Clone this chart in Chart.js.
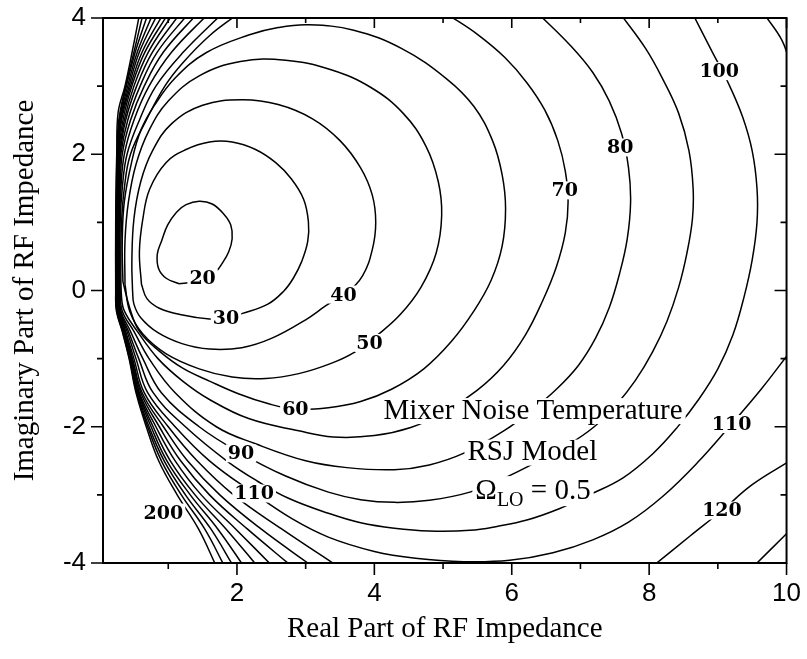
<!DOCTYPE html>
<html>
<head>
<meta charset="utf-8">
<script src="https://cdn.jsdelivr.net/npm/chart.js@4.4.1/dist/chart.umd.min.js"></script>
<style>
  html, body { margin: 0; padding: 0; background: #fff; }
  #wrap { width: 807px; height: 659px; }
</style>
</head>
<body>
<div id="wrap"><canvas id="myChart"></canvas></div>
<script>
// contour traces, [real, imaginary]
const c20 = [[1.16,0.10],[0.97,0.18],[0.86,0.32],[0.84,0.53],[0.90,0.72],[0.99,0.96],[1.12,1.15],[1.26,1.26],[1.45,1.31],[1.64,1.27],[1.81,1.12],[1.91,0.96],[1.93,0.76],[1.88,0.57],[1.78,0.39],[1.70,0.28],[1.55,0.16],[1.35,0.12],[1.16,0.10]];
const c30 = [[0.61,0.09],[0.58,0.57],[0.63,1.05],[0.73,1.49],[0.97,1.88],[1.26,2.07],[1.60,2.18],[1.93,2.18],[2.27,2.07],[2.56,1.88],[2.79,1.64],[2.97,1.34],[3.04,1.01],[3.03,0.72],[2.94,0.42],[2.82,0.18],[2.68,-0.01],[2.45,-0.2],[2.07,-0.34],[1.84,-0.41],[1.60,-0.42],[1.21,-0.36],[0.87,-0.26],[0.69,-0.12],[0.61,0.09]];
const c40 = [[0.48,0.0],[0.47,0.42],[0.5,1.05],[0.6,1.6],[0.77,2.05],[1.05,2.45],[1.5,2.72],[2.07,2.80],[2.6,2.73],[3.1,2.52],[3.5,2.2],[3.8,1.8],[3.97,1.4],[4.02,1.0],[3.97,0.6],[3.83,0.22],[3.6,-0.03],[3.3,-0.22],[3.0,-0.43],[2.51,-0.7],[2.07,-0.84],[1.6,-0.86],[1.2,-0.78],[0.85,-0.62],[0.6,-0.4],[0.5,-0.2],[0.48,0.0]];
const c50 = [[0.37,0.09],[0.37,0.72],[0.42,1.3],[0.53,1.85],[0.72,2.35],[1.0,2.78],[1.45,3.15],[2.05,3.36],[2.71,3.38],[3.37,3.24],[3.95,2.98],[4.42,2.6],[4.75,2.12],[4.93,1.6],[4.98,1.1],[4.9,0.55],[4.68,0.05],[4.38,-0.35],[4.05,-0.65],[3.72,-0.9],[3.37,-1.07],[2.9,-1.22],[2.42,-1.29],[1.93,-1.27],[1.45,-1.15],[0.97,-0.93],[0.63,-0.64],[0.44,-0.31],[0.37,0.09]];
const c60 = [[0.34,0.13],[0.33,0.7],[0.36,1.3],[0.47,1.9],[0.6,2.35],[0.8,2.72],[1.1,3.12],[1.55,3.49],[2.17,3.75],[2.6,3.86],[3.04,3.90],[3.7,3.82],[4.4,3.55],[5.06,3.10],[5.45,2.7],[5.72,2.2],[5.86,1.7],[5.91,1.2],[5.86,0.65],[5.7,0.15],[5.45,-0.3],[5.12,-0.75],[4.72,-1.15],[4.25,-1.45],[3.8,-1.63],[3.33,-1.72],[2.85,-1.74],[2.45,-1.66],[2.03,-1.52],[1.60,-1.33],[1.21,-1.14],[0.87,-0.89],[0.58,-0.6],[0.44,-0.26],[0.34,0.13]];
const c70 = [[2.0,4.05],[1.6,3.74],[1.21,3.34],[0.95,3.0],[0.68,2.5],[0.45,2.0],[0.36,1.5],[0.32,1.0],[0.31,0.4],[0.32,-0.1],[0.36,-0.3],[0.55,-0.6],[0.85,-1.0],[1.21,-1.33],[1.6,-1.6],[2.17,-1.88],[2.9,-2.06],[3.4,-2.15],[4.0,-2.13],[4.53,-2.01],[5.0,-1.8],[5.49,-1.47],[5.88,-1.1],[6.2,-0.65],[6.45,-0.15],[6.65,0.35],[6.78,0.85],[6.82,1.3],[6.78,1.75],[6.67,2.2],[6.48,2.65],[6.22,3.05],[5.9,3.42],[5.5,3.76],[5.07,4.05]];
const c80 = [[1.77,4.05],[1.22,3.5],[0.82,3.0],[0.58,2.5],[0.4,2.0],[0.33,1.5],[0.3,1.0],[0.3,0.0],[0.33,-0.3],[0.5,-0.6],[0.72,-1.0],[1.1,-1.5],[1.7,-2.0],[2.27,-2.25],[3.0,-2.5],[3.6,-2.6],[4.29,-2.63],[4.8,-2.56],[5.32,-2.38],[5.9,-2.05],[6.3,-1.75],[6.65,-1.45],[6.97,-1.1],[7.22,-0.7],[7.42,-0.25],[7.57,0.25],[7.68,0.75],[7.73,1.3],[7.7,1.8],[7.6,2.3],[7.42,2.78],[7.18,3.2],[6.85,3.6],[6.4,4.05]];
const c90 = [[1.57,4.05],[1.05,3.5],[0.72,3.0],[0.5,2.5],[0.36,2.0],[0.31,1.5],[0.29,1.0],[0.29,0.0],[0.31,-0.3],[0.45,-0.6],[0.63,-1.0],[0.9,-1.5],[1.45,-2.0],[2.06,-2.39],[2.7,-2.72],[3.33,-2.96],[3.8,-3.07],[4.29,-3.11],[4.8,-3.08],[5.39,-2.96],[5.9,-2.75],[6.36,-2.52],[6.8,-2.28],[7.2,-2.0],[7.52,-1.68],[7.8,-1.32],[8.05,-0.9],[8.26,-0.45],[8.43,0.05],[8.55,0.55],[8.63,1.05],[8.64,1.5],[8.58,2.05],[8.43,2.6],[8.2,3.1],[7.95,3.55],[7.59,4.05]];
const c100 = [[1.41,4.05],[0.93,3.5],[0.65,3.0],[0.45,2.5],[0.33,2.0],[0.3,1.5],[0.285,1.0],[0.285,0.0],[0.3,-0.3],[0.42,-0.6],[0.57,-1.0],[0.78,-1.5],[1.25,-2.0],[1.85,-2.5],[2.3,-2.8],[2.75,-3.05],[3.33,-3.27],[3.8,-3.41],[4.29,-3.49],[4.8,-3.53],[5.39,-3.52],[5.8,-3.46],[6.22,-3.37],[6.7,-3.2],[7.13,-3.0],[7.62,-2.75],[8.05,-2.4],[8.4,-2.02],[8.72,-1.6],[9.0,-1.15],[9.22,-0.65],[9.38,-0.1],[9.5,0.45],[9.57,1.0],[9.57,1.5],[9.5,2.05],[9.36,2.55],[9.15,3.05],[8.92,3.5],[8.64,4.05]];
const c110 = [[1.28,4.05],[0.84,3.5],[0.59,3.0],[0.41,2.5],[0.31,2.0],[0.29,1.5],[0.28,1.0],[0.28,0.0],[0.29,-0.3],[0.4,-0.6],[0.53,-1.0],[0.7,-1.5],[1.1,-2.0],[1.6,-2.5],[2.25,-2.98],[2.8,-3.35],[3.33,-3.62],[4.0,-3.83],[4.6,-3.93],[5.3,-3.98],[5.97,-3.96],[6.6,-3.85],[7.18,-3.66],[7.7,-3.4],[8.2,-3.02],[8.7,-2.53],[9.2,-1.96],[9.63,-1.45],[10.05,-0.9]];
const c110b = [[9.68,4.05],[9.93,3.68],[10.05,3.35]];
const c120 = [[1.16,4.05],[0.77,3.5],[0.54,3.0],[0.38,2.5],[0.3,2.0],[0.28,1.5],[0.275,1.0],[0.275,0.0],[0.285,-0.3],[0.38,-0.6],[0.5,-1.0],[0.65,-1.5],[1.0,-2.0],[1.42,-2.5],[1.95,-3.0],[2.65,-3.5],[3.47,-4.05]];
const c120b = [[8.05,-4.05],[8.6,-3.6],[9.06,-3.23],[9.5,-2.85],[10.05,-2.5]];
const c130 = [[1.06,4.05],[0.71,3.5],[0.5,3.0],[0.36,2.5],[0.29,2.0],[0.275,1.5],[0.27,1.0],[0.27,0.0],[0.28,-0.3],[0.37,-0.6],[0.48,-1.0],[0.62,-1.5],[0.93,-2.0],[1.28,-2.5],[1.75,-3.0],[2.35,-3.5],[3.1,-4.05]];
const c130b = [[9.52,-4.05],[10.05,-3.52]];
const c140 = [[0.99,4.05],[0.66,3.5],[0.47,3.0],[0.34,2.5],[0.28,2.0],[0.27,1.5],[0.265,1.0],[0.265,0.0],[0.275,-0.3],[0.36,-0.6],[0.47,-1.0],[0.6,-1.5],[0.87,-2.0],[1.18,-2.5],[1.6,-3.0],[2.15,-3.5],[2.8,-4.05]];
const c150 = [[0.92,4.05],[0.62,3.5],[0.45,3.0],[0.32,2.5],[0.275,2.0],[0.265,1.5],[0.26,1.0],[0.26,0.0],[0.27,-0.3],[0.355,-0.6],[0.46,-1.0],[0.58,-1.5],[0.82,-2.0],[1.1,-2.5],[1.48,-3.0],[1.98,-3.5],[2.52,-4.05]];
const c160 = [[0.84,4.05],[0.58,3.5],[0.43,3.0],[0.31,2.5],[0.27,2.0],[0.26,1.5],[0.255,1.0],[0.255,0.0],[0.265,-0.3],[0.35,-0.6],[0.45,-1.0],[0.57,-1.5],[0.78,-2.0],[1.03,-2.5],[1.39,-3.0],[1.84,-3.5],[2.3,-4.05]];
const c170 = [[0.77,4.05],[0.55,3.5],[0.41,3.0],[0.3,2.5],[0.265,2.0],[0.255,1.5],[0.25,1.0],[0.25,0.0],[0.26,-0.3],[0.345,-0.6],[0.445,-1.0],[0.56,-1.5],[0.75,-2.0],[0.98,-2.5],[1.32,-3.0],[1.72,-3.5],[2.1,-4.05]];
const c180 = [[0.7,4.05],[0.52,3.5],[0.39,3.0],[0.29,2.5],[0.26,2.0],[0.25,1.5],[0.245,1.0],[0.245,0.0],[0.255,-0.3],[0.34,-0.6],[0.44,-1.0],[0.55,-1.5],[0.72,-2.0],[0.94,-2.5],[1.25,-3.0],[1.62,-3.5],[1.95,-4.05]];
const c190 = [[0.63,4.05],[0.5,3.5],[0.38,3.0],[0.28,2.5],[0.255,2.0],[0.245,1.5],[0.24,1.0],[0.24,0.0],[0.25,-0.3],[0.335,-0.6],[0.435,-1.0],[0.54,-1.5],[0.7,-2.0],[0.9,-2.5],[1.19,-3.0],[1.53,-3.5],[1.82,-4.05]];
const c200 = [[0.58,4.05],[0.48,3.53],[0.37,3.0],[0.27,2.61],[0.25,2.0],[0.24,1.5],[0.235,1.0],[0.235,0.0],[0.245,-0.3],[0.33,-0.6],[0.43,-1.0],[0.53,-1.5],[0.68,-2.0],[0.86,-2.5],[1.13,-3.0],[1.44,-3.5],[1.7,-4.05]];

const allContours = [c20, c30, c40, c50, c60, c70, c80, c90, c100, c110, c110b,
  c120, c120b, c130, c130b, c140, c150, c160, c170, c180, c190, c200];

// inline contour labels
const levelText = ['20','30','40','50','60','70','80','90','100','110','110','120','200'];
const levelX    = [1.50, 1.84, 3.55, 3.93, 2.85, 6.77, 7.58, 2.06, 9.02, 2.25, 9.20, 9.06, 0.93];
const levelY    = [0.18, -0.41, -0.06, -0.77, -1.74, 1.47, 2.10, -2.39, 3.22, -2.98, -1.96, -3.23, -3.26];

// annotation block
const noteLines = ['Mixer Noise Temperature', 'RSJ Model'];
const noteX = [6.31, 6.30];
const noteY = [-1.77, -2.38];
const omegaX = 5.47, omegaY = -2.93;

const xTicks = [1,2,3,4,5,6,7,8,9,10];
const yTicks = [-4,-3,-2,-1,0,1,2,3,4];

const datasets = allContours.map(pts => ({
  data: pts.map(p => ({x: p[0], y: p[1]})),
  showLine: true,
  borderColor: '#000',
  borderWidth: 1.5,
  pointRadius: 0,
  tension: 0.4,
  fill: false
}));

function whiteBox(ctx, x, y, w, h) {
  ctx.fillStyle = '#fff';
  ctx.fillRect(x, y, w, h);
}

const labelPlugin = {
  id: 'labels',
  afterDatasetsDraw(chart) {
    const ctx = chart.ctx;
    const sx = chart.scales.x, sy = chart.scales.y;
    ctx.save();
    ctx.textAlign = 'center';
    ctx.textBaseline = 'middle';
    ctx.font = 'bold 19px "DejaVu Serif"';
    for (let i = 0; i < levelText.length; i++) {
      const px = sx.getPixelForValue(levelX[i]);
      const py = sy.getPixelForValue(levelY[i]);
      const w = ctx.measureText(levelText[i]).width;
      whiteBox(ctx, px - w / 2 - 2, py - 9, w + 4, 18);
      ctx.fillStyle = '#000';
      ctx.fillText(levelText[i], px, py + 1);
    }
    ctx.font = '29px "Liberation Serif"';
    for (let i = 0; i < noteLines.length; i++) {
      const px = sx.getPixelForValue(noteX[i]);
      const py = sy.getPixelForValue(noteY[i]);
      const w = ctx.measureText(noteLines[i]).width;
      whiteBox(ctx, px - w / 2 - 3, py - 13, w + 6, 26);
      ctx.fillStyle = '#000';
      ctx.fillText(noteLines[i], px, py);
    }
    // Omega_LO = 0.5
    const px = sx.getPixelForValue(omegaX);
    const py = sy.getPixelForValue(omegaY);
    ctx.textAlign = 'left';
    ctx.textBaseline = 'alphabetic';
    ctx.font = '29px "Liberation Serif"';
    const wO = ctx.measureText('\u03A9').width;
    ctx.font = '20px "Liberation Serif"';
    const wL = ctx.measureText('LO').width;
    ctx.font = '29px "Liberation Serif"';
    const wE = ctx.measureText(' = 0.5').width;
    whiteBox(ctx, px - 3, py - 14, wO + wL + wE + 6, 30);
    ctx.fillStyle = '#000';
    ctx.fillText('\u03A9', px, py + 9);
    ctx.font = '20px "Liberation Serif"';
    ctx.fillText('LO', px + wO, py + 16);
    ctx.font = '29px "Liberation Serif"';
    ctx.fillText(' = 0.5', px + wO + wL, py + 9);
    ctx.restore();
  },
  afterDraw(chart) {
    const ctx = chart.ctx;
    const a = chart.chartArea;
    const sx = chart.scales.x, sy = chart.scales.y;
    ctx.save();
    ctx.strokeStyle = '#000';
    ctx.lineWidth = 2;
    ctx.strokeRect(a.left, a.top, a.right - a.left, a.bottom - a.top);
    ctx.lineWidth = 1.6;
    ctx.beginPath();
    xTicks.forEach(v => {
      const p = sx.getPixelForValue(v);
      const big = v % 2 === 0;
      ctx.moveTo(p, a.bottom); ctx.lineTo(p, a.bottom + (big ? 12 : 6));
      ctx.moveTo(p, a.top); ctx.lineTo(p, a.top + (big ? 10 : 5));
    });
    yTicks.forEach(v => {
      const p = sy.getPixelForValue(v);
      const big = v % 2 === 0;
      ctx.moveTo(a.left - (big ? 12 : 6), p); ctx.lineTo(a.left, p);
      ctx.moveTo(a.right, p); ctx.lineTo(a.right - (big ? 12 : 6), p);
    });
    ctx.stroke();
    ctx.restore();
  }
};

const ctx = document.getElementById('myChart').getContext('2d');
const myChart = new Chart(ctx, {
  type: 'scatter',
  data: { datasets: datasets },
  options: {
    responsive: true,
    maintainAspectRatio: false,
    animation: false,
    layout: { padding: { left: 0, right: 15, top: 15, bottom: 0 } },
    plugins: { legend: { display: false }, tooltip: { enabled: false } },
    scales: {
      x: {
        type: 'linear', min: 0.05, max: 10,
        afterBuildTicks: s => { s.ticks = xTicks.map(v => ({ value: v })); },
        afterFit: s => { s.height = 96; },
        ticks: {
          callback: v => (v % 2 === 0 ? String(v) : ''),
          font: { family: 'Liberation Sans', size: 26, lineHeight: 1 },
          color: '#000', padding: 6, maxRotation: 0, autoSkip: false
        },
        grid: { drawOnChartArea: false, tickLength: 12, tickColor: 'rgba(0,0,0,0)' },
        border: { display: false },
        title: {
          display: true, text: 'Real Part of RF Impedance', color: '#000',
          font: { family: 'Liberation Serif', size: 29 },
          padding: { top: 0, bottom: 12 }
        }
      },
      y: {
        type: 'linear', min: -4, max: 4,
        afterBuildTicks: s => { s.ticks = yTicks.map(v => ({ value: v })); },
        afterFit: s => { s.width = 103; },
        ticks: {
          callback: v => (v % 2 === 0 ? String(v) : ''),
          font: { family: 'Liberation Sans', size: 26, lineHeight: 1 },
          color: '#000', padding: 5, autoSkip: false
        },
        grid: { drawOnChartArea: false, tickLength: 12, tickColor: 'rgba(0,0,0,0)' },
        border: { display: false },
        title: {
          display: true, text: 'Imaginary Part of RF Impedance', color: '#000',
          font: { family: 'Liberation Serif', size: 29 },
          padding: { top: 8, bottom: 0 }
        }
      }
    }
  },
  plugins: [labelPlugin]
});
</script>
</body>
</html>
